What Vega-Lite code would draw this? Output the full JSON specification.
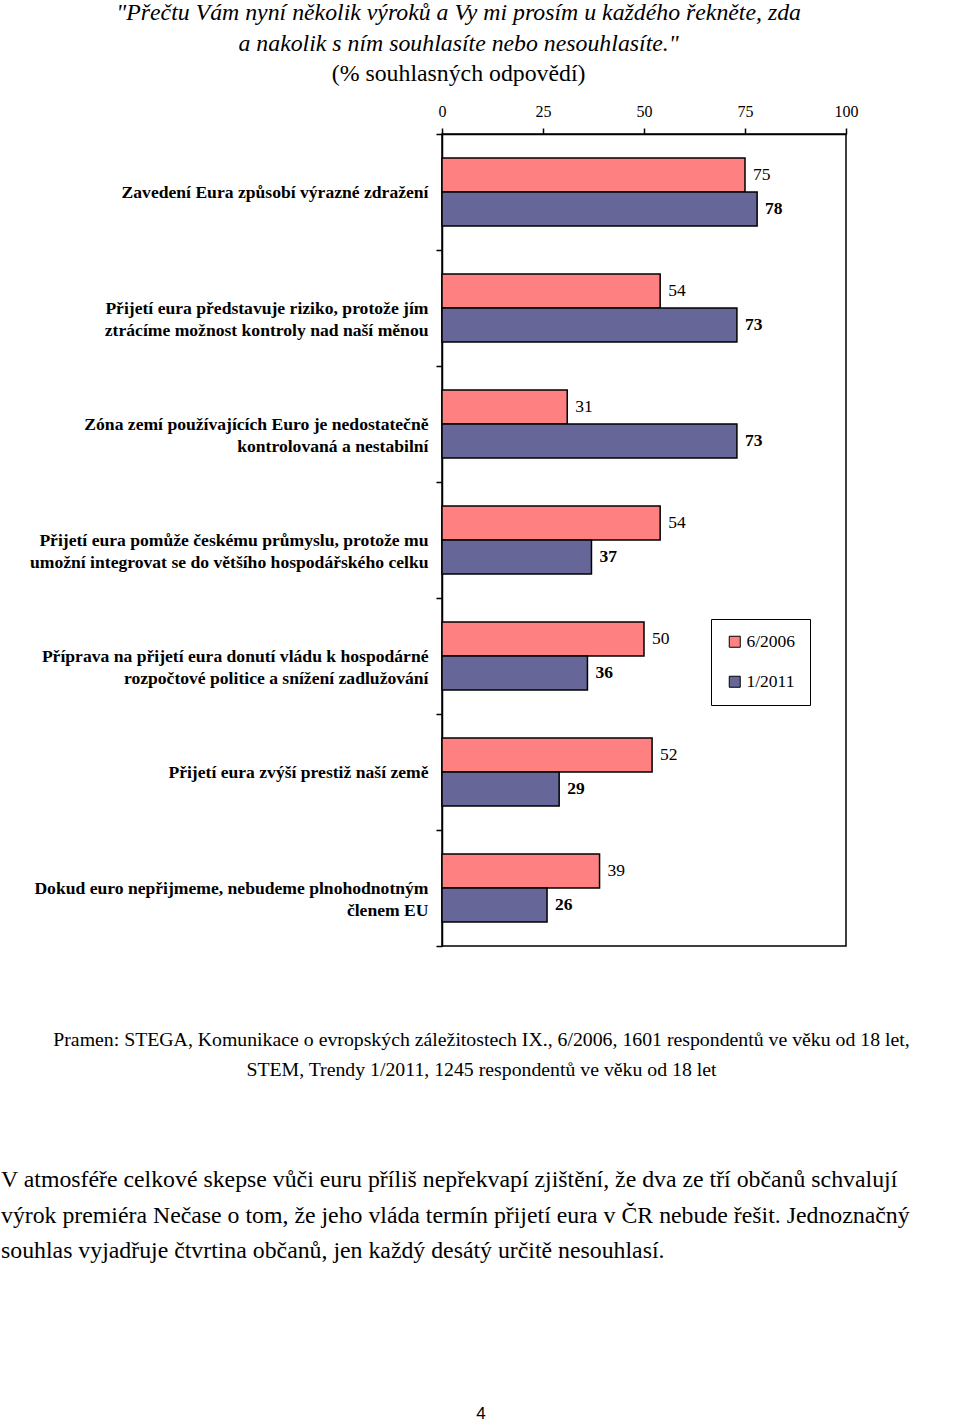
{
  "$schema": "https://vega.github.io/schema/vega-lite/v6.json",
  "padding": {"left": 0, "top": 0, "right": 0, "bottom": 0},
  "background": "white",
  "title": {
    "text": ["\"Přečtu Vám nyní několik výroků a Vy mi prosím u každého  řekněte, zda", "a nakolik s ním souhlasíte nebo nesouhlasíte.\""],
    "subtitle": "(% souhlasných odpovědí)",
    "font": "Liberation Serif",
    "fontStyle": "italic",
    "fontWeight": "normal",
    "fontSize": 23.8,
    "lineHeight": 31,
    "color": "black",
    "subtitleFont": "Liberation Serif",
    "subtitleFontSize": 23.8,
    "subtitleFontStyle": "normal",
    "subtitleColor": "black",
    "subtitlePadding": 7,
    "anchor": "middle",
    "frame": "bounds",
    "dx": -22,
    "offset": 16
  },
  "spacing": 88,
  "datasets": {
    "survey": [
      {"statement": "Zavedení Eura způsobí výrazné zdražení", "year": "6/2006", "value": 75},
      {"statement": "Zavedení Eura způsobí výrazné zdražení", "year": "1/2011", "value": 78},
      {"statement": "Přijetí eura představuje riziko, protože jím|ztrácíme možnost kontroly nad naší měnou", "year": "6/2006", "value": 54},
      {"statement": "Přijetí eura představuje riziko, protože jím|ztrácíme možnost kontroly nad naší měnou", "year": "1/2011", "value": 73},
      {"statement": "Zóna zemí používajících Euro je nedostatečně|kontrolovaná a nestabilní", "year": "6/2006", "value": 31},
      {"statement": "Zóna zemí používajících Euro je nedostatečně|kontrolovaná a nestabilní", "year": "1/2011", "value": 73},
      {"statement": "Přijetí eura pomůže českému průmyslu, protože mu|umožní integrovat se do většího hospodářského celku", "year": "6/2006", "value": 54},
      {"statement": "Přijetí eura pomůže českému průmyslu, protože mu|umožní integrovat se do většího hospodářského celku", "year": "1/2011", "value": 37},
      {"statement": "Příprava na přijetí eura donutí vládu k hospodárné|rozpočtové politice a snížení zadlužování", "year": "6/2006", "value": 50},
      {"statement": "Příprava na přijetí eura donutí vládu k hospodárné|rozpočtové politice a snížení zadlužování", "year": "1/2011", "value": 36},
      {"statement": "Přijetí eura zvýší prestiž naší země", "year": "6/2006", "value": 52},
      {"statement": "Přijetí eura zvýší prestiž naší země", "year": "1/2011", "value": 29},
      {"statement": "Dokud euro nepřijmeme, nebudeme plnohodnotným|členem EU", "year": "6/2006", "value": 39},
      {"statement": "Dokud euro nepřijmeme, nebudeme plnohodnotným|členem EU", "year": "1/2011", "value": 26}
    ]
  },
  "vconcat": [
    {
      "width": 404,
      "height": 812,
      "data": {"name": "survey"},
      "resolve": {"axis": {"x": "independent"}},
      "layer": [
        {
          "mark": {"type": "bar", "stroke": "black", "strokeWidth": 1.5},
          "encoding": {
            "y": {"field": "statement", "type": "nominal", "sort": null, "scale": {"paddingInner": 0, "paddingOuter": 0}},
            "yOffset": {"field": "year", "type": "nominal", "sort": ["6/2006", "1/2011"], "scale": {"paddingInner": 0, "paddingOuter": 0.707}},
            "x": {"field": "value", "type": "quantitative", "scale": {"domain": [0, 100]},
              "axis": {"orient": "top", "values": [0, 25, 50, 75, 100], "title": null, "grid": false, "labelFlush": false}},
            "color": {"field": "year", "type": "nominal", "sort": ["6/2006", "1/2011"],
              "scale": {"domain": ["6/2006", "1/2011"], "range": ["#FF8080", "#666699"]},
              "legend": {"orient": "none", "legendX": 269, "legendY": 485, "title": null, "strokeColor": "black",
                "padding": 14, "symbolType": "square", "symbolSize": 121, "symbolStrokeColor": "black", "symbolStrokeWidth": 1,
                "labelFont": "Liberation Serif", "labelFontSize": 17.5, "labelColor": "black", "rowPadding": 21, "symbolOffset": 1, "labelOffset": 3}}
          }
        },
        {
          "transform": [{"filter": "datum.year === '6/2006'"}],
          "mark": {"type": "text", "align": "left", "baseline": "middle", "dx": 8, "font": "Liberation Serif", "fontSize": 17.5, "color": "black"},
          "encoding": {
            "y": {"field": "statement", "type": "nominal", "sort": null, "scale": {"paddingInner": 0, "paddingOuter": 0}},
            "yOffset": {"field": "year", "type": "nominal", "sort": ["6/2006", "1/2011"], "scale": {"domain": ["6/2006", "1/2011"], "paddingInner": 0, "paddingOuter": 0.707}},
            "x": {"field": "value", "type": "quantitative",
              "axis": {"orient": "bottom", "labels": false, "ticks": false, "domain": false, "grid": false,
                "title": ["Pramen: STEGA, Komunikace o evropských záležitostech IX., 6/2006, 1601 respondentů ve věku od 18 let,", "STEM, Trendy 1/2011, 1245 respondentů ve věku od 18 let"],
                "titleFont": "Liberation Serif", "titleFontSize": 19.8, "titleFontWeight": "normal", "titleColor": "black",
                "titleLineHeight": 30, "titlePadding": 83, "titleX": 39, "titleAlign": "center"}},
            "text": {"field": "value", "type": "quantitative"}
          }
        },
        {
          "transform": [{"filter": "datum.year === '1/2011'"}],
          "mark": {"type": "text", "align": "left", "baseline": "middle", "dx": 8, "font": "Liberation Serif", "fontSize": 17.5, "fontWeight": "bold", "color": "black"},
          "encoding": {
            "y": {"field": "statement", "type": "nominal", "sort": null, "scale": {"paddingInner": 0, "paddingOuter": 0}},
            "yOffset": {"field": "year", "type": "nominal", "sort": ["6/2006", "1/2011"], "scale": {"domain": ["6/2006", "1/2011"], "paddingInner": 0, "paddingOuter": 0.707}},
            "x": {"field": "value", "type": "quantitative", "axis": null},
            "text": {"field": "value", "type": "quantitative"}
          }
        }
      ]
    },
    {
      "width": 519,
      "height": 54,
      "view": {"stroke": null},
      "title": {
        "text": ["V atmosféře celkové skepse vůči euru příliš nepřekvapí zjištění, že dva ze tří občanů schvalují", "výrok premiéra Nečase o tom, že jeho vláda termín přijetí eura v ČR nebude řešit. Jednoznačný", "souhlas vyjadřuje čtvrtina občanů, jen každý desátý určitě nesouhlasí."],
        "anchor": "start",
        "frame": "bounds",
        "font": "Liberation Serif",
        "fontSize": 23.8,
        "fontWeight": "normal",
        "fontStyle": "normal",
        "lineHeight": 35.5,
        "color": "black",
        "offset": 0
      },
      "data": {"values": [{"block": "paragraph"}]},
      "mark": {"type": "text", "text": ""},
      "encoding": {
        "y": {"field": "block", "type": "nominal", "axis": {"labels": false, "ticks": false, "domain": false, "title": null}}
      }
    },
    {
      "width": 519,
      "height": 2,
      "view": {"stroke": null},
      "title": {
        "text": "4",
        "anchor": "middle",
        "frame": "bounds",
        "font": "Liberation Sans",
        "fontSize": 17,
        "fontWeight": "normal",
        "color": "black",
        "offset": 0
      },
      "data": {"values": [{"block": "page"}]},
      "mark": {"type": "text", "text": ""},
      "encoding": {
        "y": {"field": "block", "type": "nominal", "axis": {"labels": false, "ticks": false, "domain": false, "title": null}}
      }
    }
  ],
  "config": {
    "font": "Liberation Serif",
    "view": {"stroke": "black", "strokeWidth": 1.5},
    "axisY": {
      "title": null,
      "labelExpr": "split(datum.label, '|')",
      "labelFont": "Liberation Serif",
      "labelFontSize": 17.6,
      "labelFontWeight": "bold",
      "labelColor": "black",
      "labelLimit": 1000,
      "labelPadding": 8,
      "labelLineHeight": 22,
      "tickSize": 6,
      "tickColor": "black",
      "tickWidth": 1.5,
      "domainColor": "black",
      "domainWidth": 1.5,
      "tickBand": "extent",
      "minExtent": 441,
      "maxExtent": 1000
    },
    "axisX": {
      "labelFont": "Liberation Serif",
      "labelFontSize": 16,
      "labelColor": "black",
      "labelPadding": 9,
      "tickSize": 6,
      "tickColor": "black",
      "tickWidth": 1.5,
      "domainColor": "black",
      "domainWidth": 1.5
    }
  }
}
